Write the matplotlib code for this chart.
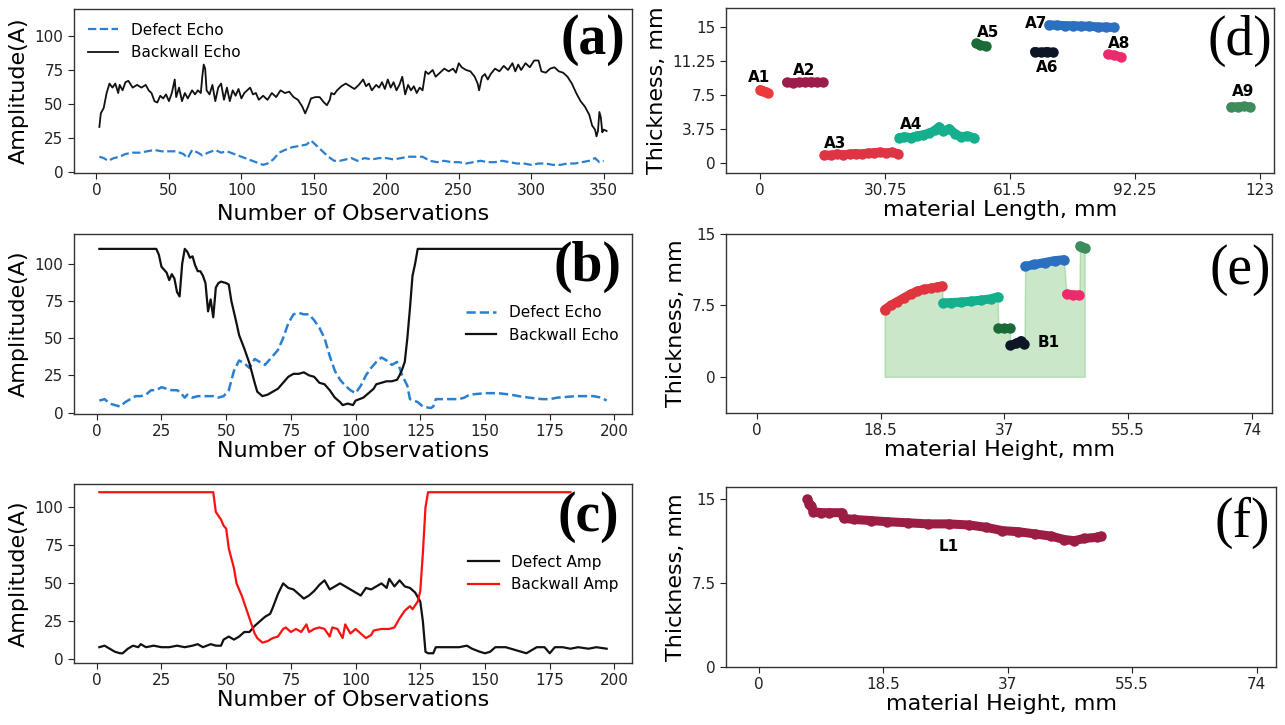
import matplotlib
matplotlib.use("Agg")
import matplotlib.pyplot as plt

# ---------- panel (a): 350 observations ----------
a_back_obs = [2, 3, 5, 7, 9, 11, 13, 15, 16, 18, 20, 22, 25, 28, 31, 34, 36, 38, 40, 42,
              44, 46, 48, 50, 52, 54, 55, 57, 59, 61, 63, 66, 68, 70, 72, 73, 74, 75, 76, 78,
              80, 82, 84, 86, 88, 90, 92, 94, 96, 98, 100, 102, 104, 106, 108, 110, 112, 115, 118, 121,
              124, 127, 130, 133, 136, 139, 142, 144, 146, 148, 151, 154, 157, 159, 161, 162, 164, 166, 169, 172,
              175, 178, 181, 184, 186, 188, 190, 193, 195, 197, 199, 201, 203, 205, 207, 209, 211, 213, 215, 217,
              219, 221, 223, 225, 227, 229, 232, 234, 237, 240, 243, 246, 248, 250, 252, 255, 258, 261, 263, 264,
              266, 268, 270, 272, 275, 278, 281, 284, 287, 289, 291, 293, 296, 299, 302, 305, 307, 310, 313, 316,
              319, 322, 325, 328, 331, 334, 337, 340, 342, 344, 345, 346, 347, 348, 349, 350, 352]
a_back_amp = [33, 43, 47, 58, 65, 62, 65, 58, 64, 60, 66, 67, 62, 64, 62, 64, 60, 58, 52, 51,
              56, 54, 57, 52, 58, 68, 55, 62, 52, 58, 54, 60, 57, 60, 58, 70, 79, 76, 60, 57,
              64, 52, 62, 65, 53, 62, 52, 60, 56, 61, 54, 58, 60, 62, 57, 58, 53, 56, 53, 58,
              55, 60, 58, 59, 55, 53, 48, 43, 48, 54, 55, 55, 51, 49, 53, 58, 57, 60, 63, 65,
              63, 61, 64, 68, 63, 65, 60, 64, 62, 66, 61, 68, 62, 66, 60, 64, 70, 57, 64, 60,
              63, 58, 62, 60, 74, 72, 75, 70, 73, 76, 74, 76, 73, 80, 77, 75, 74, 70, 65, 60,
              70, 72, 68, 72, 76, 74, 78, 75, 80, 74, 79, 75, 80, 77, 82, 82, 74, 73, 76, 77,
              74, 73, 70, 65, 58, 52, 48, 42, 34, 31, 26, 30, 44, 40, 29, 31, 30]
a_def_obs = [2, 5, 8, 12, 16, 20, 25, 30, 35, 40, 45, 50, 55, 60, 63, 66, 70, 73, 77, 82,
             86, 90, 95, 100, 105, 110, 115, 118, 122, 126, 130, 135, 140, 145, 148, 152, 156, 160, 164, 168,
             172, 176, 180, 185, 190, 195, 200, 205, 210, 215, 220, 225, 230, 235, 240, 245, 250, 255, 260, 265,
             270, 275, 280, 285, 290, 295, 300, 305, 310, 315, 320, 325, 330, 335, 340, 344, 347, 350]
a_def_amp = [11, 10, 8, 10, 11, 13, 14, 14, 15, 16, 15, 15, 15, 13, 10, 16, 14, 12, 14, 16,
             14, 15, 13, 11, 9, 7, 5, 6, 9, 14, 16, 18, 19, 20, 23, 19, 15, 11, 8, 8,
             9, 10, 8, 10, 9, 10, 10, 9, 10, 11, 11, 11, 8, 7, 8, 7, 7, 6, 7, 8,
             7, 7, 8, 7, 6, 6, 5, 6, 6, 5, 5, 6, 6, 7, 8, 10, 7, 8]

# ---------- panel (b): 200 observations ----------
b_back_obs = [1, 23, 24, 25, 27, 28, 29, 30, 31, 32, 33, 34, 35, 36, 37, 38, 39, 40, 41, 42,
              43, 44, 45, 46, 47, 48, 50, 51, 52, 54, 55, 57, 59, 61, 62, 64, 66, 68, 70, 72,
              74, 76, 78, 80, 82, 84, 86, 88, 90, 92, 94, 95, 97, 99, 100, 103, 105, 107, 108, 110,
              112, 114, 116, 117, 118, 119, 120, 121, 122, 123, 124, 180]
b_back_amp = [110, 110, 106, 98, 94, 89, 93, 90, 81, 78, 100, 110, 108, 104, 105, 99, 95, 95, 92, 87,
              68, 76, 64, 84, 87, 88, 87, 86, 75, 60, 52, 43, 33, 20, 14, 11, 12, 14, 16, 20,
              24, 26, 26, 27, 25, 24, 20, 19, 15, 10, 7, 5, 6, 5, 8, 10, 13, 16, 19, 20,
              21, 21, 22, 25, 29, 34, 50, 70, 92, 100, 110, 110]
b_def_obs = [1, 3, 5, 7, 9, 11, 13, 15, 17, 19, 21, 23, 25, 27, 29, 31, 32, 34, 35, 37,
             39, 42, 45, 47, 49, 51, 53, 55, 57, 59, 61, 63, 65, 67, 70, 72, 74, 76, 78, 80,
             82, 84, 86, 88, 90, 92, 94, 96, 98, 100, 102, 104, 106, 108, 110, 112, 114, 116, 117, 118,
             120, 121, 124, 126, 129, 130, 131, 135, 140, 142, 144, 150, 155, 160, 163, 167, 172, 175, 178, 185,
             192, 195, 197]
b_def_amp = [8, 9, 6, 5, 4, 7, 9, 11, 11, 12, 15, 15, 17, 16, 15, 15, 14, 10, 12, 10,
             11, 11, 11, 10, 11, 15, 28, 35, 33, 30, 36, 34, 32, 36, 42, 50, 60, 66, 67, 66,
             66, 62, 57, 50, 38, 28, 22, 18, 15, 13, 18, 25, 30, 34, 37, 35, 32, 34, 30, 25,
             18, 9, 7, 4, 3, 4, 9, 9, 9, 10, 12, 13, 13, 12, 11, 10, 9, 9, 10, 11,
             11, 10, 8]

# ---------- panel (c): 200 observations ----------
c_back_obs = [1, 45, 46, 48, 49, 50, 51, 53, 54, 56, 58, 60, 61, 62, 64, 66, 68, 70, 72, 73,
              75, 77, 79, 81, 82, 84, 86, 88, 90, 91, 93, 95, 96, 98, 100, 102, 104, 106, 107, 110,
              113, 115, 117, 119, 121, 122, 124, 125, 126, 127, 128, 183]
c_back_amp = [110, 110, 97, 92, 88, 86, 73, 60, 50, 42, 32, 22, 17, 14, 11, 12, 14, 15, 20, 21,
              18, 20, 18, 23, 18, 20, 21, 20, 15, 21, 20, 14, 23, 17, 20, 17, 14, 16, 19, 20,
              20, 21, 27, 32, 35, 33, 38, 45, 70, 100, 110, 110]
c_def_obs = [1, 3, 5, 7, 9, 10, 12, 14, 16, 17, 19, 22, 25, 28, 31, 34, 37, 39, 41, 44,
             46, 48, 49, 51, 53, 55, 57, 59, 61, 63, 65, 67, 68, 70, 72, 74, 76, 78, 80, 82,
             84, 86, 88, 90, 92, 94, 96, 98, 100, 102, 104, 106, 108, 110, 112, 113, 115, 117, 119, 121,
             123, 125, 126, 127, 128, 130, 131, 135, 140, 143, 145, 148, 150, 152, 154, 158, 162, 164, 166, 168,
             170, 173, 175, 177, 180, 183, 186, 190, 193, 197]
c_def_amp = [8, 9, 7, 5, 4, 4, 7, 9, 8, 10, 8, 9, 8, 8, 9, 8, 9, 10, 8, 10,
             9, 9, 13, 15, 13, 15, 18, 18, 22, 25, 28, 30, 34, 43, 50, 47, 46, 43, 40, 42,
             45, 49, 52, 46, 48, 50, 48, 46, 44, 42, 47, 46, 48, 50, 47, 53, 48, 52, 48, 47,
             44, 38, 25, 5, 4, 4, 8, 8, 8, 9, 7, 5, 4, 5, 8, 8, 6, 5, 4, 6,
             8, 8, 4, 8, 8, 7, 8, 7, 8, 7]

# ---------- panel (d): thickness clusters A1..A9 ----------
d_names = ["A1", "A2", "A3", "A4", "A5", "A6", "A7", "A8", "A9"]
d_colors = ["#ec3a3c", "#9c1d4c", "#de3444", "#14b08e", "#1b6b38", "#0c1626", "#2b70c0", "#ee2a6e", "#3d8c5c"]
d_x = [[0.0, 0.6, 1.5, 2.0],
       [6.5, 8, 9.5, 11, 12.5, 14, 15.5],
       [15.8, 17.5, 19, 20.5, 22, 23.5, 25, 26.5, 28, 29.5, 31, 32.5, 34],
       [34.2, 35.5, 37, 38.5, 40, 41.5, 43, 44, 45, 46.5, 48, 49.5, 51, 52.5],
       [53.2, 54.2, 55.5],
       [67.5, 69, 70.5, 72],
       [71, 73, 75, 77, 79, 81, 83, 85, 87],
       [85.5, 87, 88.8],
       [115.8, 117.5, 119, 120.6]]
d_y = [[8.1, 8.0, 7.8, 7.7],
       [8.9, 8.85, 8.9, 8.9, 8.95, 8.9, 8.9],
       [0.9, 0.85, 1.0, 0.9, 1.0, 1.05, 1.0, 1.1, 1.15, 1.2, 1.1, 1.2, 1.0],
       [2.8, 2.9, 2.8, 3.0, 3.1, 3.3, 3.6, 4.0, 3.5, 3.8, 3.2, 2.9, 3.0, 2.8],
       [13.2, 13.0, 12.9],
       [12.3, 12.2, 12.3, 12.2],
       [15.25, 15.2, 15.15, 15.15, 15.1, 15.1, 15.0, 15.0, 14.95],
       [12.0, 11.9, 11.7],
       [6.2, 6.2, 6.25, 6.2]]
d_label_x = [-0.2, 10.9, 18.5, 37.2, 56.0, 70.6, 67.8, 88.3, 118.7]
d_label_y = [9.4, 10.2, 2.2, 4.3, 14.4, 10.5, 15.4, 13.2, 7.9]

# ---------- panel (e): B1 profile ----------
e_colors = ["#e0343f", "#14b08e", "#1b6b38", "#0c1626", "#2b70c0", "#ee2a6e", "#3d8c5c"]
e_x = [[19.1, 20, 21, 22, 23, 24, 25, 26, 27, 27.7],
       [27.8, 29, 30.5, 32, 33.5, 35, 36.0],
       [36.1, 37, 37.8],
       [37.9, 38.8, 39.5, 40.0],
       [40.1, 41.5, 43, 44.5, 45.9],
       [46.3, 47.2, 48.2],
       [48.3, 48.6, 49.0]]
e_y = [[7.05, 7.5, 7.9, 8.3, 8.7, 9.0, 9.2, 9.3, 9.45, 9.55],
       [7.75, 7.8, 7.85, 7.95, 8.05, 8.2, 8.4],
       [5.1, 5.1, 5.1],
       [3.3, 3.5, 3.8, 3.4],
       [11.6, 11.8, 12.0, 12.2, 12.3],
       [8.7, 8.6, 8.6],
       [13.75, 13.6, 13.5]]

# ---------- panel (f): L1 profile ----------
f_x = [7.2, 7.5, 7.8, 8.1, 9.2, 10.4, 12.3, 12.6, 14.1, 16.6, 19.0, 22.1, 25.1, 28.2, 31.3,
       33.7, 36.2, 38.6, 41.1, 43.5, 45.4, 46.9, 48.4, 50.3, 50.9]
f_y = [15.0, 14.6, 14.4, 13.9, 13.8, 13.8, 13.8, 13.3, 13.2, 13.1, 13.0, 12.9, 12.8, 12.8, 12.7,
       12.5, 12.2, 12.1, 11.9, 11.7, 11.4, 11.3, 11.5, 11.6, 11.7]

W, H = 1285, 725
fig = plt.figure(figsize=(W / 100, H / 100), dpi=100)


def box(left, top, right, bottom):
    return [left / W, 1 - bottom / H, (right - left) / W, (bottom - top) / H]


def style(ax):
    for s in ax.spines.values():
        s.set_color("#333333")
        s.set_linewidth(1.0)
    ax.tick_params(labelsize=11, colors="#222222", length=4)


LABEL = 16
blue = "#2a7fd0"
BAND = dict(lw=6.5, ms=6.5, solid_capstyle="round", solid_joinstyle="round")

# (a)
ax = fig.add_axes(box(74, 9, 632, 173))
ax.plot(a_def_obs, a_def_amp, "--", color=blue, lw=1.6, label="Defect Echo")
ax.plot(a_back_obs, a_back_amp, "-", color="#111111", lw=1.3, label="Backwall Echo")
ax.set_ylim(-1, 120)
ax.set_xlim(-15.5, 369.5)
ax.set_xticks(range(0, 351, 50))
ax.set_yticks([0, 25, 50, 75, 100])
ax.set_xlabel("Number of Observations", fontsize=LABEL)
ax.set_ylabel("Amplitude(A)", fontsize=LABEL)
ax.legend(loc="upper left", frameon=False, fontsize=11)
style(ax)

# (b)
ax = fig.add_axes(box(74, 234, 632, 414))
ax.plot(b_def_obs, b_def_amp, "--", color=blue, lw=1.8, label="Defect Echo")
ax.plot(b_back_obs, b_back_amp, "-", color="#111111", lw=1.6, label="Backwall Echo")
ax.set_ylim(-1, 120)
ax.set_xlim(-8.8, 206.8)
ax.set_xticks(range(0, 201, 25))
ax.set_yticks([0, 25, 50, 75, 100])
ax.set_xlabel("Number of Observations", fontsize=LABEL, labelpad=1)
ax.set_ylabel("Amplitude(A)", fontsize=LABEL)
ax.legend(loc="center right", frameon=False, fontsize=11)
style(ax)

# (c)
ax = fig.add_axes(box(74, 484, 632, 663))
ax.plot(c_def_obs, c_def_amp, "-", color="#111111", lw=1.6, label="Defect Amp")
ax.plot(c_back_obs, c_back_amp, "-", color="#ff1010", lw=1.6, label="Backwall Amp")
ax.set_ylim(-2.4, 115.4)
ax.set_xlim(-8.8, 206.8)
ax.set_xticks(range(0, 201, 25))
ax.set_yticks([0, 25, 50, 75, 100])
ax.set_xlabel("Number of Observations", fontsize=LABEL, labelpad=1)
ax.set_ylabel("Amplitude(A)", fontsize=LABEL)
ax.legend(loc="center right", frameon=False, fontsize=11)
style(ax)

# (d)
ax = fig.add_axes(box(726, 8, 1274, 173))
for name, c, xs, ys, lx, ly in zip(d_names, d_colors, d_x, d_y, d_label_x, d_label_y):
    ax.plot(xs, ys, "-o", color=c, **BAND)
    ax.text(lx, ly, name, fontsize=11, fontweight="bold", ha="center", va="center")
ax.set_xlim(-8.4, 126.4)
ax.set_ylim(-1.1, 17.1)
ax.set_xticks([0, 30.75, 61.5, 92.25, 123])
ax.set_xticklabels(["0", "30.75", "61.5", "92.25", "123"])
ax.set_yticks([0, 3.75, 7.5, 11.25, 15])
ax.set_yticklabels(["0", "3.75", "7.5", "11.25", "15"])
ax.set_xlabel("material Length, mm", fontsize=LABEL, labelpad=1)
ax.set_ylabel("Thickness, mm", fontsize=LABEL)
style(ax)

# (e)
ax = fig.add_axes(box(726, 234, 1272, 413))
all_x = [v for xs in e_x for v in xs]
all_y = [v for ys in e_y for v in ys]
ax.fill_between(all_x, all_y, 0, facecolor="#2ca02c", edgecolor="#2ca02c", alpha=0.25, lw=1)
for c, xs, ys in zip(e_colors, e_x, e_y):
    ax.plot(xs, ys, "-o", color=c, **BAND)
ax.text(43.7, 3.57, "B1", fontsize=11, fontweight="bold", ha="center", va="center")
ax.set_xlim(-4.6, 77)
ax.set_ylim(-3.8, 15)
ax.set_xticks([0, 18.5, 37, 55.5, 74])
ax.set_xticklabels(["0", "18.5", "37", "55.5", "74"])
ax.set_yticks([0, 7.5, 15])
ax.set_yticklabels(["0", "7.5", "15"])
ax.set_xlabel("material Height, mm", fontsize=LABEL, labelpad=1)
ax.set_ylabel("Thickness, mm", fontsize=LABEL)
style(ax)

# (f)
ax = fig.add_axes(box(726, 487, 1276, 667))
ax.plot(f_x, f_y, "-o", color="#9c1d44", **BAND)
ax.text(28.2, 10.75, "L1", fontsize=11, fontweight="bold", ha="center", va="center")
ax.set_xlim(-4.9, 76.9)
ax.set_ylim(0, 16.1)
ax.set_xticks([0, 18.5, 37, 55.5, 74])
ax.set_xticklabels(["0", "18.5", "37", "55.5", "74"])
ax.set_yticks([0, 7.5, 15])
ax.set_yticklabels(["0", "7.5", "15"])
ax.set_xlabel("material Height, mm", fontsize=LABEL, labelpad=1)
ax.set_ylabel("Thickness, mm", fontsize=LABEL)
style(ax)

# panel letters
letters = ["(a)", "(b)", "(c)", "(d)", "(e)", "(f)"]
letter_pos = [(593, 40), (588, 267), (588, 517), (1240, 41), (1240, 270), (1242, 523)]
for t, (px, py) in zip(letters, letter_pos):
    w = "bold" if t in ("(a)", "(b)", "(c)") else "normal"
    fig.text(px / W, 1 - py / H, t, fontsize=40, family="Liberation Serif",
             fontweight=w, ha="center", va="center")

fig.savefig("out.png", dpi=100)
